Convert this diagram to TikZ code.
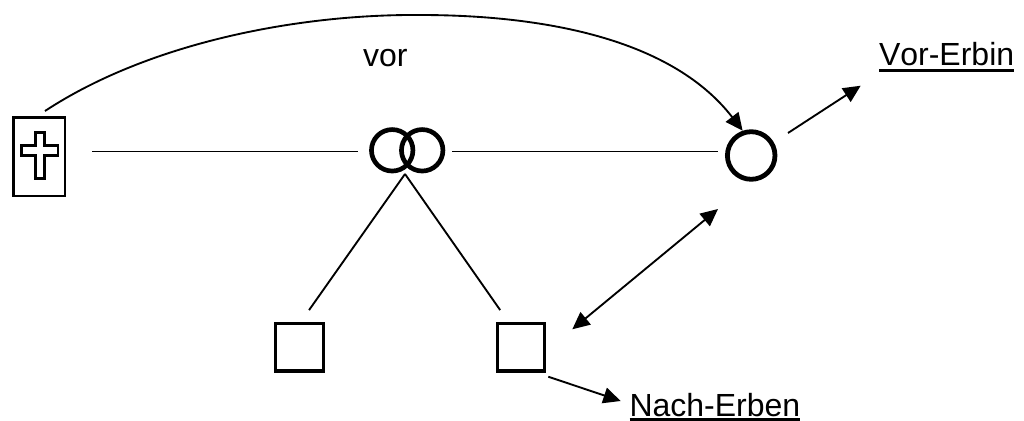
\documentclass[tikz,border=0pt]{standalone}
\usepackage{fontspec}
\setmainfont[Kerning=Off]{Liberation Sans}
\usetikzlibrary{arrows.meta,calc}
\newcommand{\ulabel}[2]{\setbox0\hbox{#2}\rlap{\rule[#1]{\wd0}{1.7pt}}\box0}
\tikzset{
  x=0.75pt,y=-0.75pt,
  lbl/.style={font=\fontsize{24}{28}\selectfont,inner sep=0pt,outer sep=0pt,anchor=base west},
  thinline/.style={line width=1.4pt,black},
  ring/.style={circle,draw,line width=3.5pt,inner sep=0pt,outer sep=0pt,minimum size=31.1pt},
  person/.style={rectangle,draw,line width=2.3pt,inner sep=0pt,outer sep=0pt,minimum size=35.5pt},
  arrowline/.style={line width=1.4pt,black,-{Triangle[length=13pt,width=12pt]}},
  both/.style={line width=1.4pt,black,{Triangle[length=13pt,width=12pt]}-{Triangle[length=13pt,width=12pt]}}
}
\begin{document}
\begin{tikzpicture}
\useasboundingbox (0,0) rectangle (1024,421);
\fill[white] (0,0) rectangle (1024,421);
% deceased box
\node[rectangle,draw,line width=1.6pt,inner sep=0pt,outer sep=0pt,minimum width=38.8pt,minimum height=58.8pt] (box) at (39.3,156.7) {};
\draw[line width=2.1pt,line join=miter] (35.2,132.5) -- (44.6,132.5) -- (44.6,145.5) -- (58,145.5) -- (58,155.2) -- (44.6,155.2) -- (44.6,178.5) -- (35.2,178.5) -- (35.2,155.2) -- (21.5,155.2) -- (21.5,145.5) -- (35.2,145.5) -- cycle;
% couple
\node[ring] (ringL) at (392.2,150.3) {};
\node[ring] (ringR) at (422.2,150.3) {};
\coordinate (join) at (405,174);
\coordinate (level) at (0,151.5);
% persons
\node[ring,minimum size=35.7pt,line width=3.6pt] (vor) at (751.2,155.5) {};
\node[person] (sqL) at (299.5,347.3) {};
\node[person] (sqR) at (520.7,347.3) {};
% labels
\node[lbl] (tvor) at (363,66) {vor};
\node[lbl] (tve) at (879,65.7) {\ulabel{-4.4pt}{Vor-Erbin}};
\node[lbl] (tne) at (629.5,416) {\ulabel{-3.4pt}{Nach-Erben}};
% free ends of the arrows
\coordinate (a1) at (788,133);
\coordinate (a2) at (860.7,85.7);
\coordinate (b1) at (572.3,329.3);
\coordinate (b2) at (718,209);
\coordinate (c1) at (548.3,376.7);
\coordinate (c2) at (620.7,401);
\coordinate (s) at (45,111);
\coordinate (top) at (420,15);
% connectors
\draw[thinline,shorten <=20.25pt,shorten >=10pt] (box.east |- level) -- (ringL.west |- level);
\draw[thinline,shorten <=6.8pt,shorten >=7pt] (ringR.east |- level) -- (vor.west |- level);
\draw[thinline,shorten >=12.4pt] (join) -- (sqL.north);
\draw[thinline,shorten >=12.4pt] (join) -- (sqR.115);
\draw[arrowline,shorten >=2pt] (s) .. controls (150,42) and (300,14) .. (top) .. controls (530,15) and (668,34) .. (vor.107);
\draw[arrowline] (a1) -- (a2);
\draw[both] (b1) -- (b2);
\draw[arrowline] (c1) -- (c2);
\end{tikzpicture}
\end{document}
